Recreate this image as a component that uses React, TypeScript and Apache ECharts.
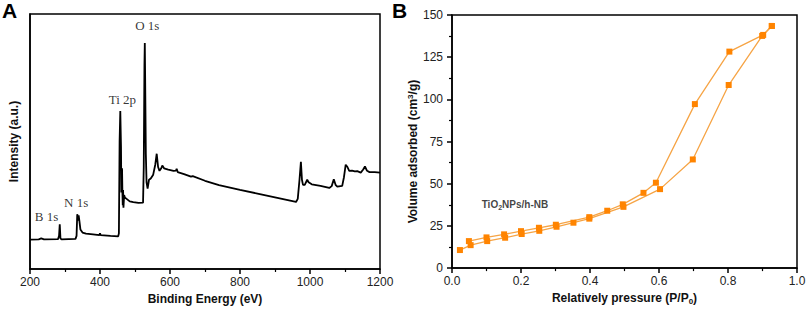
import React, { useEffect, useRef } from "react";
import * as echarts from "echarts";

// Panel A: XPS survey spectrum
const xpsEnergy = [200, 225, 232, 240, 280, 283, 285, 287, 290, 330, 333, 335, 337, 339, 341, 344, 350, 360, 380, 398, 400, 402, 430, 452, 454, 456, 458, 460, 461, 462, 463, 464, 465, 466, 467, 469, 471, 476, 485, 495, 510, 523, 525, 527, 528, 529, 531, 533, 536, 540, 545, 552, 558, 562, 566, 570, 575, 578, 583, 595, 610, 617, 619, 622, 640, 660, 665, 700, 740, 800, 850, 900, 940, 960, 965, 970, 974, 977, 980, 985, 992, 996, 1005, 1030, 1055, 1062, 1068, 1073, 1078, 1092, 1097, 1102, 1107, 1112, 1120, 1128, 1135, 1145, 1152, 1157, 1163, 1170, 1185, 1200];
const xpsIntensity = [11.5, 11.6, 12.0, 11.6, 11.7, 13, 17.5, 12, 11.6, 11.8, 13, 21.5, 19, 21, 19, 15.5, 14.3, 13.9, 13.6, 13.3, 14.0, 13.3, 13.0, 12.8, 14, 50, 62.0, 48, 30, 35, 39.5, 30, 25, 31, 24, 29, 28, 27.5, 26.5, 26.2, 25.9, 26.0, 40, 80, 88.6, 75, 45, 34, 31.5, 35, 35.5, 37, 41, 45.2, 40, 38.5, 39.5, 40.6, 39.5, 39, 38.5, 38.6, 39.3, 38, 37.2, 36.2, 36.4, 34.6, 32.9, 31, 29.6, 28.1, 26.9, 26.3, 27.5, 35, 42, 35, 33, 33, 35, 34, 33.2, 32.6, 31.8, 32.5, 35.2, 33, 32.3, 32.6, 36, 40.9, 40, 38.5, 38.6, 38.3, 38.4, 37.8, 39, 40.2, 38.5, 38.0, 38, 37.8];
const xpsPeakNames = ["B 1s", "N 1s", "Ti 2p", "O 1s"];
const xpsPeakEnergy = [247, 332, 464, 535];
const xpsPeakIntensity = [20.4, 25.9, 66.5, 95.5];

// Panel B: N2 adsorption/desorption isotherm
const adsPressure = [0.023, 0.054, 0.102, 0.154, 0.202, 0.253, 0.303, 0.352, 0.398, 0.497, 0.603, 0.698, 0.802, 0.899, 0.927];
const adsVolume = [10.7, 13.6, 16.0, 18.0, 20.2, 22.1, 24.5, 26.9, 29.3, 36.3, 46.8, 64.4, 108.5, 137.6, 143.5];
const desPressure = [0.927, 0.902, 0.804, 0.704, 0.591, 0.555, 0.495, 0.45, 0.398, 0.301, 0.252, 0.2, 0.151, 0.1, 0.049];
const desVolume = [143.5, 138.2, 128.3, 97.2, 50.6, 44.6, 37.8, 34.0, 30.2, 25.7, 23.9, 21.9, 20.0, 18.2, 16.0];
const sampleName = "TiO2NPs/h-NB";
const sampleLabelAt = [0.086, 37.6];

const SANS = "Liberation Sans, Arial, sans-serif";
const SERIF = "Liberation Serif, Times New Roman, serif";

function axisBase() {
  return {
    axisLine: { show: true, onZero: false, lineStyle: { color: "#000", width: 1.5 } },
    axisTick: { show: true, inside: false, length: 5, lineStyle: { color: "#000", width: 1.5 } },
    minorTick: { show: true, splitNumber: 2, length: 3, lineStyle: { color: "#000", width: 1.2 } },
    splitLine: { show: false },
    minorSplitLine: { show: false },
    axisLabel: { color: "#222", fontFamily: SANS, fontSize: 12 },
    nameLocation: "middle" as const,
    nameTextStyle: { color: "#111", fontFamily: SANS, fontSize: 12, fontWeight: "bold" as const },
  };
}

export default function App() {
  const ref = useRef<HTMLDivElement>(null);
  useEffect(() => {
    document.body.style.margin = "0";
    if (!ref.current) return;
    const chart = echarts.init(ref.current, null, { renderer: "svg" });
    const b = axisBase();
    chart.setOption({
      animation: false,
      backgroundColor: "#fff",
      grid: [
        { left: 30, top: 14, width: 350, height: 255, show: true, borderColor: "#000", borderWidth: 1.5 },
        { left: 452, top: 15, width: 345, height: 254, show: true, borderColor: "#000", borderWidth: 1.5 },
      ],
      xAxis: [
        {
          ...b, gridIndex: 0, type: "value", min: 200, max: 1200, interval: 200,
          axisLabel: { ...b.axisLabel, margin: 7, formatter: (v: number) => String(v) },
          name: "Binding Energy (eV)", nameGap: 19,
        },
        {
          ...b, gridIndex: 1, type: "value", min: 0, max: 1, interval: 0.2,
          axisLabel: { ...b.axisLabel, margin: 7, formatter: (v: number) => v.toFixed(1) },
          name: "{n|Relatively pressure (P/P}{s|0}{n|)}", nameGap: 21,
          nameTextStyle: {
            ...b.nameTextStyle,
            rich: {
              n: { fontFamily: SANS, fontSize: 12, fontWeight: "bold", color: "#111" },
              s: { fontFamily: SANS, fontSize: 8, fontWeight: "bold", color: "#111", verticalAlign: "bottom", padding: [6, 0, 0, 0] },
            },
          },
        },
      ],
      yAxis: [
        {
          ...b, gridIndex: 0, type: "value", min: 0, max: 100,
          axisTick: { show: false }, minorTick: { show: false }, axisLabel: { show: false },
          name: "Intensity (a.u.)", nameGap: 10,
        },
        {
          ...b, gridIndex: 1, type: "value", min: 0, max: 150, interval: 25,
          axisLabel: { ...b.axisLabel, margin: 9 },
          name: "{n|Volume adsorbed (cm}{p|3}{n|/g)}", nameGap: 32,
          nameTextStyle: {
            ...b.nameTextStyle,
            padding: [0, 20, 0, 0],
            rich: {
              n: { fontFamily: SANS, fontSize: 12, fontWeight: "bold", color: "#111" },
              p: { fontFamily: SANS, fontSize: 8, fontWeight: "bold", color: "#111", verticalAlign: "top", padding: [0, 0, 6, 0] },
            },
          },
        },
      ],
      graphic: [
        { type: "text", left: 2, top: 0, style: { text: "A", font: "bold 21px " + SANS, fill: "#000" } },
        { type: "text", left: 392, top: 0, style: { text: "B", font: "bold 21px " + SANS, fill: "#000" } },
      ],
      series: [
        {
          type: "line", xAxisIndex: 0, yAxisIndex: 0, silent: true, showSymbol: false, symbol: "none",
          lineStyle: { color: "#000", width: 1.8 },
          data: xpsEnergy.map((e, i) => [e, xpsIntensity[i]]),
        },
        {
          type: "scatter", xAxisIndex: 0, yAxisIndex: 0, silent: true, symbolSize: 0,
          label: { show: true, position: "inside", formatter: (p: any) => p.name, fontFamily: SERIF, fontSize: 13, color: "#000" },
          data: xpsPeakNames.map((n, i) => ({ name: n, value: [xpsPeakEnergy[i], xpsPeakIntensity[i]] })),
        },
        {
          type: "line", xAxisIndex: 1, yAxisIndex: 1, silent: true, symbol: "rect", symbolSize: 6,
          itemStyle: { color: "#FF8400" }, lineStyle: { color: "#F6A445", width: 1.3 },
          data: adsPressure.map((p, i) => [p, adsVolume[i]]),
        },
        {
          type: "line", xAxisIndex: 1, yAxisIndex: 1, silent: true, symbol: "rect", symbolSize: 6,
          itemStyle: { color: "#FF8400" }, lineStyle: { color: "#F6A445", width: 1.3 },
          data: desPressure.map((p, i) => [p, desVolume[i]]),
        },
        {
          type: "scatter", xAxisIndex: 1, yAxisIndex: 1, silent: true, symbolSize: 0,
          label: {
            show: true, position: "right", distance: 0,
            formatter: () => "{n|TiO}{s|2}{n|NPs/h-NB}",
            rich: {
              n: { fontFamily: SANS, fontSize: 10, fontWeight: "bold", color: "#111" },
              s: { fontFamily: SANS, fontSize: 7, fontWeight: "bold", color: "#111", verticalAlign: "bottom", padding: [5, 0, 0, 0] },
            },
          },
          data: [{ name: sampleName, value: sampleLabelAt }],
        },
      ],
    });
    return () => chart.dispose();
  }, []);
  return <div ref={ref} style={{ width: 809, height: 310 }} />;
}
